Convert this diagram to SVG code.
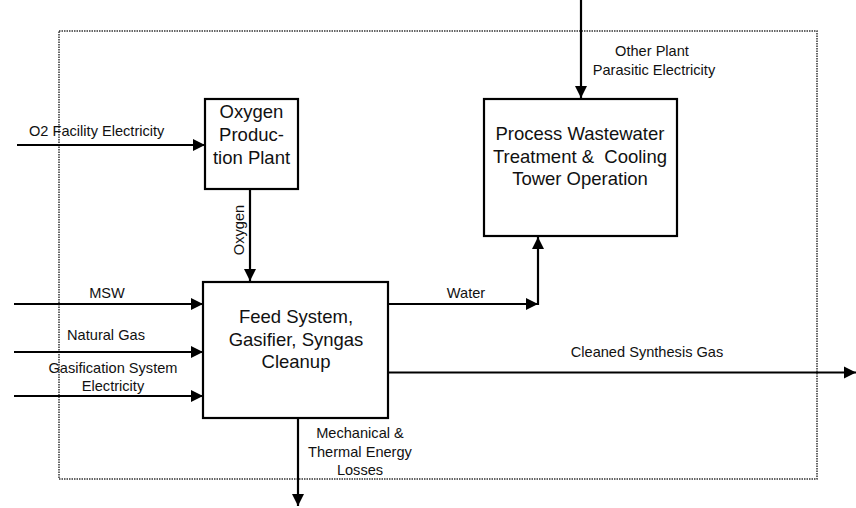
<svg xmlns="http://www.w3.org/2000/svg" width="856" height="508" viewBox="0 0 856 508">
<defs>
<marker id="ah" viewBox="0 0 10 10" refX="10" refY="5" markerWidth="5.5" markerHeight="5.5" orient="auto" markerUnits="strokeWidth">
<path d="M0,0 L10,5 L0,10 z" fill="#000"/>
</marker>
</defs>
<style>
.box{fill:#fff;stroke:#000;stroke-width:2.2}
.ln{fill:none;stroke:#000;stroke-width:2.2}
.arr{fill:none;stroke:#000;stroke-width:2.2;marker-end:url(#ah)}
.lbl{font-family:"Liberation Sans",Arial,sans-serif;font-size:14.6px;fill:#111}
.big{font-family:"Liberation Sans",Arial,sans-serif;font-size:18.5px;fill:#111;text-anchor:middle}
.bound{fill:none;stroke:#333;stroke-width:1.5;stroke-dasharray:1.5 1}
</style>
<rect class="bound" x="59" y="31" width="758" height="448"/>
<g id="connectors">
<line class="arr" x1="17" y1="145" x2="205" y2="145"/>
<line class="arr" x1="250" y1="189" x2="250" y2="281"/>
<line class="arr" x1="581" y1="0" x2="581" y2="98"/>
<line class="arr" x1="14" y1="304" x2="203" y2="304"/>
<line class="arr" x1="14" y1="352" x2="203" y2="352"/>
<line class="arr" x1="14" y1="396" x2="203" y2="396"/>
<line class="arr" x1="388" y1="304" x2="538" y2="304"/>
<line class="arr" x1="538" y1="305" x2="538" y2="237"/>
<line class="arr" x1="388" y1="372.5" x2="856" y2="372.5"/>
<line class="arr" x1="298" y1="418" x2="298" y2="506"/>
<text class="lbl" x="29" y="136">O2 Facility Electricity</text>
<text class="lbl" transform="translate(244,230) rotate(-90)" text-anchor="middle">Oxygen</text>
<text class="lbl" x="652" y="56" text-anchor="middle">Other Plant</text>
<text class="lbl" x="654" y="75" text-anchor="middle">Parasitic Electricity</text>
<text class="lbl" x="107" y="298" text-anchor="middle">MSW</text>
<text class="lbl" x="106" y="340" text-anchor="middle">Natural Gas</text>
<text class="lbl" x="113" y="373" text-anchor="middle">Gasification System</text>
<text class="lbl" x="113" y="391" text-anchor="middle">Electricity</text>
<text class="lbl" x="466" y="298" text-anchor="middle">Water</text>
<text class="lbl" x="647" y="357" text-anchor="middle">Cleaned Synthesis Gas</text>
<text class="lbl" x="360" y="438" text-anchor="middle">Mechanical &amp;</text>
<text class="lbl" x="360" y="457" text-anchor="middle">Thermal Energy</text>
<text class="lbl" x="360" y="475" text-anchor="middle">Losses</text>
</g>
<g id="oxygen-plant">
<rect class="box" x="205" y="99" width="93" height="90"/>
<text class="big" x="251.5" y="118">Oxygen</text>
<text class="big" x="251.5" y="141">Produc-</text>
<text class="big" x="251.5" y="164">tion Plant</text>
</g>
<g id="wastewater">
<rect class="box" x="484" y="99" width="193" height="137"/>
<text class="big" x="580" y="140">Process Wastewater</text>
<text class="big" x="580" y="163" style="white-space:pre">Treatment &amp;  Cooling</text>
<text class="big" x="580" y="185">Tower Operation</text>
</g>
<g id="feed-system">
<rect class="box" x="203" y="282" width="185" height="136"/>
<text class="big" x="296" y="323">Feed System,</text>
<text class="big" x="296" y="346">Gasifier, Syngas</text>
<text class="big" x="296" y="368">Cleanup</text>
</g>
</svg>
